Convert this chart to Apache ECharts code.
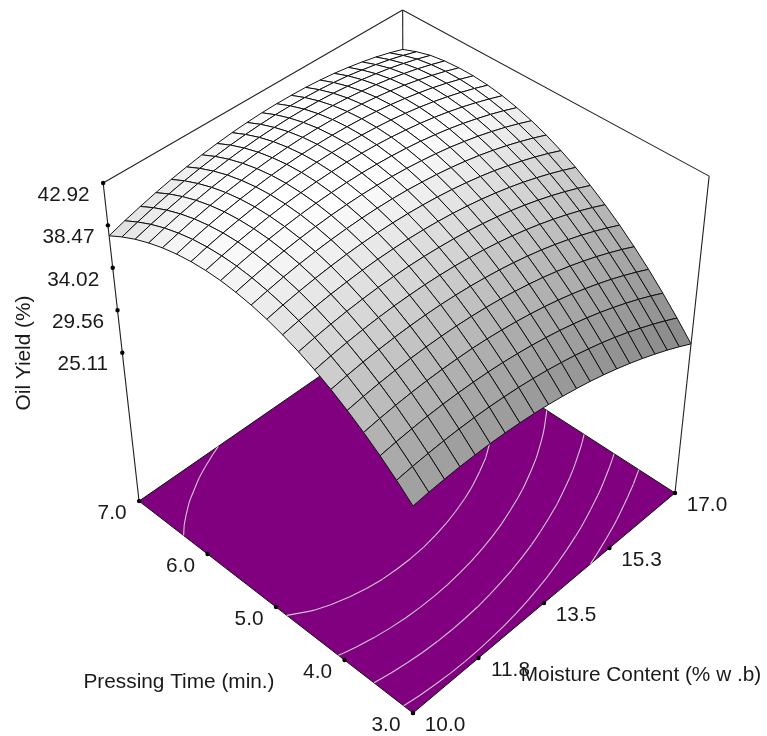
<!DOCTYPE html>
<html>
<head>
<meta charset="utf-8">
<style>html,body{margin:0;padding:0;background:#fff}#chart{width:767px;height:736px}</style>
<script src="https://cdn.jsdelivr.net/npm/echarts@6/dist/echarts.min.js"></script>
</head>
<body>
<div id="chart"></div>
<script>
// Axis values and labels
const moistureTicks = [10, 11.75, 13.5, 15.25, 17];
const moistureLabels = ['10.0', '11.8', '13.5', '15.3', '17.0'];
const timeTicks = [3, 4, 5, 6, 7];
const timeLabels = ['3.0', '4.0', '5.0', '6.0', '7.0'];
const yieldTicks = [25.11, 29.56, 34.02, 38.47, 42.92];
const yieldLabels = ['25.11', '29.56', '34.02', '38.47', '42.92'];
const contourLevels = [29.5, 32.1, 34.8, 37.45, 40.0];

// Oil yield, one row per pressing time (3.0 to 7.0 min),
// each row running from moisture 10.0 to 17.0 % in 21 steps.
const yieldT300 = [31.18,31.36,31.48,31.56,31.58,31.56,31.48,31.36,31.18,30.96,30.68,30.35,29.98,29.55,29.07,28.54,27.96,27.33,26.66,25.93,25.15];
const yieldT320 = [32.67,32.86,33.00,33.10,33.14,33.14,33.08,32.97,32.82,32.61,32.35,32.04,31.68,31.27,30.82,30.31,29.75,29.13,28.47,27.76,27.00];
const yieldT340 = [34.03,34.24,34.40,34.52,34.58,34.59,34.55,34.47,34.33,34.14,33.90,33.61,33.27,32.88,32.44,31.95,31.40,30.81,30.17,29.48,28.73];
const yieldT360 = [35.27,35.50,35.68,35.81,35.89,35.92,35.90,35.84,35.72,35.54,35.32,35.05,34.73,34.36,33.94,33.46,32.94,32.37,31.74,31.07,30.35];
const yieldT380 = [36.38,36.63,36.83,36.98,37.08,37.13,37.13,37.08,36.98,36.83,36.63,36.37,36.07,35.72,35.31,34.86,34.35,33.80,33.19,32.54,31.83];
const yieldT400 = [37.38,37.65,37.87,38.03,38.15,38.22,38.24,38.21,38.12,37.99,37.80,37.57,37.29,36.95,36.57,36.13,35.64,35.11,34.52,33.88,33.20];
const yieldT420 = [38.25,38.54,38.78,38.96,39.10,39.19,39.22,39.21,39.14,39.03,38.86,38.65,38.38,38.06,37.70,37.28,36.81,36.30,35.73,35.11,34.44];
const yieldT440 = [39.00,39.31,39.56,39.77,39.92,40.03,40.08,40.09,40.04,39.94,39.80,39.60,39.35,39.05,38.71,38.31,37.86,37.36,36.81,36.21,35.56];
const yieldT460 = [39.63,39.95,40.23,40.45,40.62,40.75,40.82,40.84,40.82,40.74,40.61,40.43,40.20,39.92,39.59,39.21,38.78,38.30,37.77,37.19,36.56];
const yieldT480 = [40.13,40.48,40.77,41.01,41.20,41.35,41.44,41.48,41.47,41.41,41.30,41.14,40.93,40.67,40.36,40.00,39.58,39.12,38.61,38.05,37.43];
const yieldT500 = [40.51,40.87,41.19,41.45,41.66,41.82,41.93,41.99,42.00,41.96,41.87,41.72,41.53,41.29,41.00,40.66,40.26,39.82,39.32,38.78,38.18];
const yieldT520 = [40.77,41.15,41.48,41.76,41.99,42.17,42.30,42.38,42.41,42.38,42.31,42.19,42.01,41.79,41.52,41.19,40.82,40.39,39.92,39.39,38.81];
const yieldT540 = [40.91,41.31,41.66,41.95,42.20,42.40,42.55,42.64,42.69,42.69,42.63,42.53,42.37,42.17,41.91,41.61,41.25,40.84,40.39,39.88,39.32];
const yieldT560 = [40.92,41.34,41.71,42.02,42.29,42.51,42.67,42.79,42.85,42.87,42.83,42.75,42.61,42.42,42.19,41.90,41.56,41.17,40.73,40.24,39.71];
const yieldT580 = [40.81,41.25,41.64,41.97,42.26,42.49,42.68,42.81,42.89,42.92,42.91,42.84,42.72,42.56,42.34,42.07,41.75,41.38,40.96,40.49,39.97];
const yieldT600 = [40.58,41.04,41.44,41.80,42.10,42.35,42.56,42.71,42.81,42.86,42.86,42.81,42.71,42.56,42.36,42.11,41.81,41.46,41.06,40.61,40.11];
const yieldT620 = [40.23,40.70,41.13,41.50,41.82,42.09,42.31,42.48,42.60,42.68,42.70,42.66,42.58,42.45,42.27,42.04,41.76,41.42,41.04,40.61,40.12];
const yieldT640 = [39.75,40.25,40.69,41.08,41.42,41.71,41.95,42.14,42.28,42.37,42.40,42.39,42.33,42.22,42.05,41.84,41.58,41.26,40.90,40.48,40.02];
const yieldT660 = [39.16,39.67,40.13,40.53,40.89,41.20,41.46,41.67,41.83,41.93,41.99,42.00,41.95,41.86,41.71,41.52,41.27,40.98,40.63,40.24,39.79];
const yieldT680 = [38.43,38.96,39.44,39.87,40.25,40.57,40.85,41.08,41.25,41.38,41.46,41.48,41.45,41.38,41.25,41.08,40.83,40.54,40.21,39.81,39.36];
const yieldT700 = [37.59,38.14,38.63,39.08,39.48,39.82,40.12,40.36,40.56,40.70,40.80,40.84,40.83,40.78,40.67,40.51,40.28,40.00,39.67,39.27,38.80];

const yieldRows = [yieldT300,yieldT320,yieldT340,yieldT360,yieldT380,yieldT400,yieldT420,yieldT440,yieldT460,yieldT480,yieldT500,yieldT520,yieldT540,yieldT560,yieldT580,yieldT600,yieldT620,yieldT640,yieldT660,yieldT680,yieldT700];

// View: perspective camera for the unit box (u moisture, v time, w yield)
const FLOOR = 7.30, CEIL = 42.92;
const CAM_X = [413, 334.6, -260, -52.7];
const CAM_Y = [713, -167, -161.7, -373.4];
const CAM_W = [1, 0.1076, 0.1002, -0.1277];
const LIGHT = [0.1, 0.1, 1];
const SHADE_POWER = 1.35, SHADE_GAIN = 1.05;
const FONT = '20.8px "Liberation Sans", Arial, sans-serif';
const TEXT = '#1a1a1a';

const N = yieldRows.length - 1, M = yieldRows[0].length - 1;
const toW = z => (z - FLOOR) / (CEIL - FLOOR);
function project(u, v, w) {
  const d = CAM_W[0] + CAM_W[1]*u + CAM_W[2]*v + CAM_W[3]*w;
  return [(CAM_X[0] + CAM_X[1]*u + CAM_X[2]*v + CAM_X[3]*w) / d,
          (CAM_Y[0] + CAM_Y[1]*u + CAM_Y[2]*v + CAM_Y[3]*w) / d];
}
const lerp = (a, b, t) => [a[0] + (b[0]-a[0])*t, a[1] + (b[1]-a[1])*t];
const normOf = (vals, x) => (x - vals[0]) / (vals[vals.length-1] - vals[0]);

const F = project(0,0,0), R = project(1,0,0), L = project(0,1,0), B = project(1,1,0);
const LT = project(0,1,1), RT = project(1,0,1), BT = project(1,1,1);
const yieldAxisFloor = CEIL - 7.5 * (yieldTicks[1] - yieldTicks[0]);

// Surface cells, far to near
const cells = [];
for (let j = 0; j < N; j++) for (let i = 0; i < M; i++) cells.push([i, j]);
cells.sort((a, b) => (b[0]+b[1]) - (a[0]+a[1]));

function cellColor(i, j) {
  const r0 = yieldRows[j], r1 = yieldRows[j+1], range = CEIL - FLOOR;
  const p = (r0[i+1] + r1[i+1] - r0[i] - r1[i]) / 2 * M / range;
  const q = (r1[i] + r1[i+1] - r0[i] - r0[i+1]) / 2 * N / range;
  const dot = (-p*LIGHT[0] - q*LIGHT[1] + LIGHT[2]) /
    (Math.hypot(p, q, 1) * Math.hypot(LIGHT[0], LIGHT[1], LIGHT[2]));
  const g = Math.round(255 * Math.min(1, SHADE_GAIN * Math.pow(Math.max(0, dot), SHADE_POWER)));
  return 'rgb(' + g + ',' + g + ',' + g + ')';
}

// Contour segments from the yield table, by marching squares
function contourSegments(level) {
  const segs = [];
  const cross = (u0, v0, z0, u1, v1, z1) => {
    const t = (level - z0) / (z1 - z0);
    return [(u0 + (u1-u0)*t) / M, (v0 + (v1-v0)*t) / N];
  };
  for (let j = 0; j < N; j++) for (let i = 0; i < M; i++) {
    const a = yieldRows[j][i], b = yieldRows[j][i+1], c = yieldRows[j+1][i+1], d = yieldRows[j+1][i];
    const pts = [];
    if ((a < level) !== (b < level)) pts.push(cross(i, j, a, i+1, j, b));
    if ((b < level) !== (c < level)) pts.push(cross(i+1, j, b, i+1, j+1, c));
    if ((c < level) !== (d < level)) pts.push(cross(i+1, j+1, c, i, j+1, d));
    if ((d < level) !== (a < level)) pts.push(cross(i, j+1, d, i, j, a));
    if (pts.length >= 2) segs.push([pts[0], pts[1]]);
    if (pts.length === 4) segs.push([pts[2], pts[3]]);
  }
  return segs;
}

const px = (api, p) => api.coord(p);
const line = (api, a, b, stroke, width) => ({
  type: 'line',
  shape: { x1: px(api,a)[0], y1: px(api,a)[1], x2: px(api,b)[0], y2: px(api,b)[1] },
  style: { stroke, lineWidth: width }
});
const text = (api, p, str, rotation) => ({
  type: 'text',
  x: px(api,p)[0], y: px(api,p)[1],
  rotation: rotation || 0,
  style: { text: str, font: FONT, fill: TEXT, align: 'center', verticalAlign: 'middle' }
});
const dot = (api, p) => ({
  type: 'circle',
  shape: { cx: px(api,p)[0], cy: px(api,p)[1], r: 2.2 },
  style: { fill: '#000' }
});

const option = {
  animation: false,
  backgroundColor: '#ffffff',
  grid: { left: 0, right: 0, top: 0, bottom: 0 },
  xAxis: { type: 'value', min: 0, max: 767, show: false },
  yAxis: { type: 'value', min: 0, max: 736, inverse: true, show: false },
  series: [
    { // floor and box frame
      type: 'custom', clip: false, silent: true, data: [[0, 0]], z: 1,
      renderItem: (params, api) => ({
        type: 'group',
        children: [
          line(api, LT, L, '#222', 1.1),
          line(api, RT, R, '#222', 1.1),
          line(api, BT, B, '#222', 1.1),
          line(api, LT, BT, '#222', 1.1),
          line(api, RT, BT, '#222', 1.1),
          { type: 'polygon',
            shape: { points: [F, R, B, L].map(p => px(api, p)) },
            style: { fill: '#800080', stroke: '#111', lineWidth: 1 } }
        ]
      })
    },
    { // contours on the floor
      type: 'custom', clip: false, silent: true, z: 2,
      data: contourLevels.map(v => [v, 0]),
      renderItem: (params, api) => ({
        type: 'group',
        children: contourSegments(api.value(0)).map(s =>
          line(api, project(s[0][0], s[0][1], 0), project(s[1][0], s[1][1], 0), '#d2c4d2', 1.1))
      })
    },
    { // response surface
      type: 'custom', clip: false, silent: true, z: 3, progressive: 0,
      data: cells,
      renderItem: (params, api) => {
        const i = api.value(0), j = api.value(1);
        const corner = (a, b) => px(api, project(a / M, b / N, toW(yieldRows[b][a])));
        return {
          type: 'polygon',
          shape: { points: [corner(i,j), corner(i+1,j), corner(i+1,j+1), corner(i,j+1)] },
          style: { fill: cellColor(i, j), stroke: '#111', lineWidth: 1, lineJoin: 'round' }
        };
      }
    },
    { // ticks and labels
      type: 'custom', clip: false, silent: true, z: 4, data: [[0, 0]],
      renderItem: (params, api) => {
        const kids = [];
        moistureTicks.forEach((m, k) => {
          const p = lerp(F, R, normOf(moistureTicks, m));
          kids.push(dot(api, p), text(api, [p[0] + 32, p[1] + 12.5], moistureLabels[k]));
        });
        timeTicks.forEach((t, k) => {
          const p = lerp(F, L, normOf(timeTicks, t));
          kids.push(dot(api, p), text(api, [p[0] - 27, p[1] + 12.5], timeLabels[k]));
        });
        yieldTicks.forEach((y, k) => {
          const p = lerp(L, LT, (y - yieldAxisFloor) / (CEIL - yieldAxisFloor));
          kids.push(dot(api, p), text(api, [p[0] - 39.5, p[1] + 12], yieldLabels[k]));
        });
        kids.push(text(api, [179, 682], 'Pressing Time (min.)'));
        kids.push(text(api, [641, 675], 'Moisture Content (% w .b)'));
        kids.push(text(api, [24, 353], 'Oil Yield (%)', Math.PI / 2));
        return { type: 'group', children: kids };
      }
    }
  ]
};
echarts.init(document.getElementById('chart')).setOption(option);
</script>
</body>
</html>
